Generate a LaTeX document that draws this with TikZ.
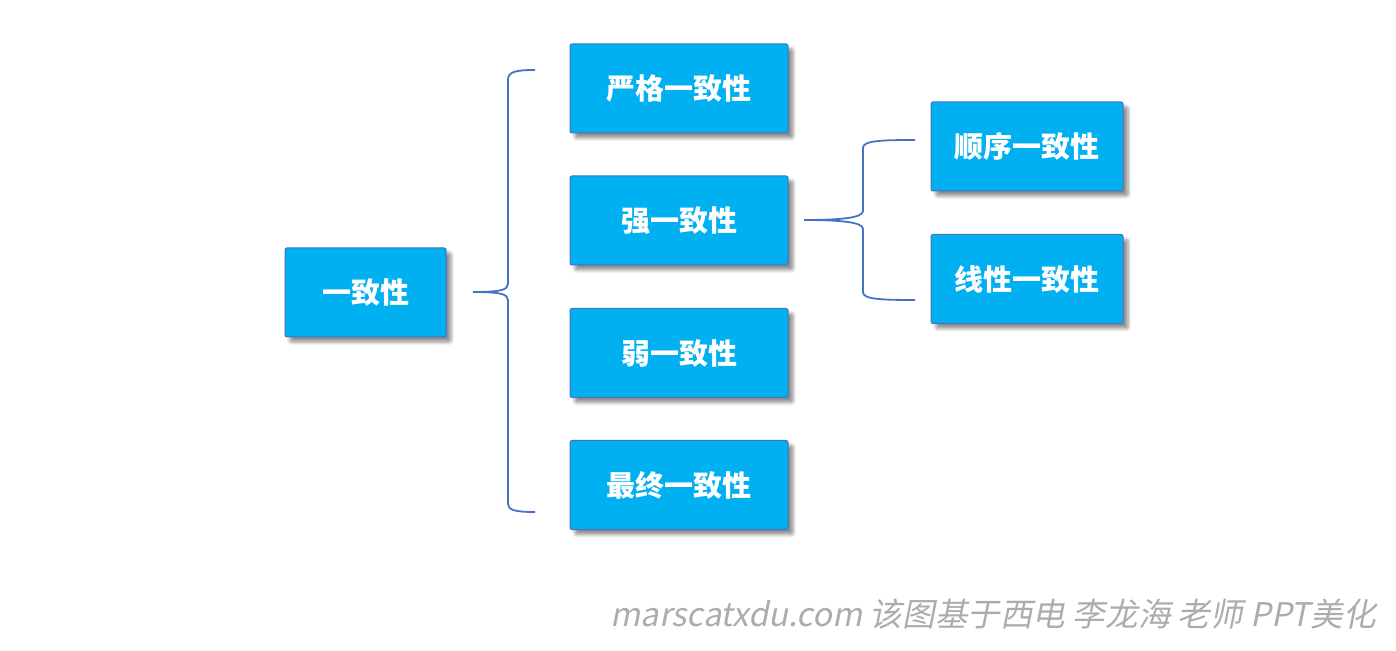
\documentclass[tikz,border=0pt]{standalone}
\usepackage{fontspec}
\newfontfamily\cjk{Noto Sans CJK SC}
\newfontfamily\cjkslant{Noto Sans CJK SC}[FakeSlant=0.2]
\usetikzlibrary{shadows.blur}
\definecolor{boxfill}{HTML}{00B0F0}
\definecolor{boxline}{HTML}{4472C4}
\definecolor{bracecol}{HTML}{4472C4}
\definecolor{markgray}{HTML}{AFABAB}
\begin{document}
\begin{tikzpicture}[x=0.5pt, y=-0.5pt]
		\tikzset{nd/.style={rectangle, rounded corners=1pt, draw=boxline, line width=0.5pt, fill=boxfill,
				minimum width=109pt, minimum height=44.5pt, inner sep=0pt, text=white,
				font=\cjk\bfseries\fontsize{14.5pt}{16pt}\selectfont,
				blur shadow={shadow xshift=2.5pt, shadow yshift=-2.5pt, shadow opacity=45, shadow blur steps=6}},
			br/.style={draw=bracecol, line width=0.9pt}};

		\useasboundingbox (0,0) rectangle (1396,651);

		\node[nd, minimum width=80.5pt] (root) at (365.5, 292.5) {一致性};
		\node[nd] (strict) at (679, 88.5) {严格一致性};
		\node[nd] (strong) at (679, 220.5) {强一致性};
		\node[nd] (weak) at (679, 353) {弱一致性};
		\node[nd] (final) at (679, 485) {最终一致性};
		\node[nd, minimum width=96pt] (seq) at (1027, 146.5) {顺序一致性};
		\node[nd, minimum width=96pt] (lin) at (1027, 279) {线性一致性};

		\coordinate (tip1) at (473, 292);
		\coordinate (top1) at (535, 70);
		\coordinate (bot1) at (535, 512);
		\coordinate (tip2) at (804, 220);
		\coordinate (top2) at (915, 140);
		\coordinate (bot2) at (915, 300);

		\draw[br] (top1) .. controls (515, 70) and (508, 72) .. (508, 80) -- (508, 284)
			.. controls (508, 290) and (500, 292) .. (tip1)
			.. controls (500, 292) and (508, 294) .. (508, 300) -- (508, 504)
			.. controls (508, 510) and (515, 512) .. (bot1);

		\draw[br] (top2) .. controls (878, 140) and (863, 141) .. (863, 148) -- (863, 211)
			.. controls (863, 218) and (840, 220) .. (tip2)
			.. controls (840, 220) and (863, 222) .. (863, 229) -- (863, 292)
			.. controls (863, 299) and (878, 300) .. (bot2);

		\node[anchor=east, inner sep=0pt, text=markgray, font=\cjkslant\fontsize{16.3pt}{18pt}\selectfont]
			(mark) at (1376, 614) {marscatxdu.com 该图基于西电 李龙海 老师 PPT美化};

	\end{tikzpicture}
\end{document}
